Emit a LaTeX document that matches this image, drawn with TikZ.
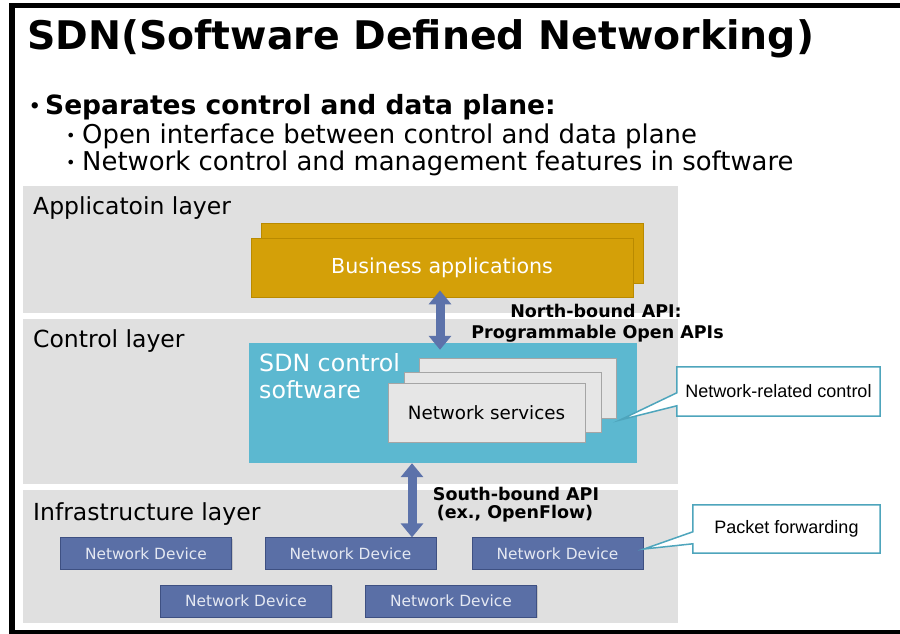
\documentclass[tikz,border=0pt]{standalone}
\usepackage{fontspec}
\setmainfont{DejaVu Sans}
\newfontfamily\arialf{Liberation Sans}
\usetikzlibrary{arrows.meta,calc,shadows}
\definecolor{layergray}{RGB}{224,224,224}
\definecolor{gold}{RGB}{212,160,8}
\definecolor{golddark}{RGB}{185,138,0}
\definecolor{sdncyan}{RGB}{92,184,208}
\definecolor{devblue}{RGB}{90,111,166}
\definecolor{devborder}{RGB}{62,80,130}
\definecolor{arrowblue}{RGB}{92,114,170}
\definecolor{svcgray}{RGB}{230,230,230}
\definecolor{svcborder}{RGB}{165,165,165}
\definecolor{callteal}{RGB}{78,165,188}
\definecolor{devtext}{RGB}{228,232,242}
\begin{document}
\begin{tikzpicture}[x=1pt,y=-1pt,
  layerbox/.style={fill=layergray, draw=none, inner sep=0pt, minimum width=655pt},
  layerlabel/.style={anchor=base west, inner sep=0pt, font=\fontsize{23.5}{27}\selectfont},
  goldbox/.style={fill=gold, draw=golddark, line width=0.8pt, inner sep=0pt, minimum width=382pt, minimum height=59pt},
  svcbox/.style={fill=svcgray, draw=svcborder, line width=1pt, inner sep=0pt, minimum width=197pt, minimum height=59pt},
  devbox/.style={fill=devblue, draw=devborder, line width=0.8pt, inner sep=0pt, minimum width=171pt, minimum height=31.5pt, text=devtext, font=\fontsize{15.4}{18}\selectfont,
    drop shadow={shadow xshift=1.2pt, shadow yshift=-1.2pt, opacity=0.3}},
  bigarrow/.style={draw=arrowblue, line width=9pt, {Triangle[width=22pt,length=14pt]}-{Triangle[width=22pt,length=14pt]}},
  apilabel/.style={anchor=base, inner sep=0pt, font=\bfseries\fontsize{17.5}{21}\selectfont},
  callbox/.style={fill=white, draw=none, inner sep=0pt, font=\arialf\fontsize{18}{21}\selectfont},
  callline/.style={draw=callteal, fill=white, line width=1.5pt, line join=miter},
  txt/.style={anchor=base west, inner sep=0pt}
]
\useasboundingbox (0,0) rectangle (900,634);
\fill[white] (0,0) rectangle (900,634);
% frame
\fill[black] (9,3) rectangle (900,8);
\fill[black] (9,3) rectangle (15,634);
\fill[black] (9,630) rectangle (900,634);

% title and bullets
\node[txt, font=\bfseries\fontsize{39.4}{42}\selectfont] (title) at (27,50) {SDN(Software Defined Networking)};
\node[txt, font=\bfseries\fontsize{18}{20}\selectfont] (b1) at (29,112) {•};
\node[txt, font=\bfseries\fontsize{26.5}{30}\selectfont] (h1) at (45,114) {Separates control and data plane:};
\node[txt, font=\fontsize{16}{20}\selectfont] (b2) at (66,141) {•};
\node[txt, font=\fontsize{25.9}{30}\selectfont] (s1) at (82,143) {Open interface between control and data plane};
\node[txt, font=\fontsize{16}{20}\selectfont] (b3) at (66,168) {•};
\node[txt, font=\fontsize{25.9}{30}\selectfont] (s2) at (82,170) {Network control and management features in software};

% layers
\node[layerbox, minimum height=127pt] (app) at (350.5,249.5) {};
\node[layerbox, minimum height=165pt] (ctrl) at (350.5,401.5) {};
\node[layerbox, minimum height=133pt] (infra) at (350.5,556.5) {};
\node[layerlabel] (applbl) at (33,214) {Applicatoin layer};
\node[layerlabel] (ctrllbl) at (33,347) {Control layer};
\node[layerlabel] (infralbl) at (33,520) {Infrastructure layer};

% business applications
\node[goldbox, minimum height=60pt] (bizback) at (452,253) {};
\node[goldbox, text=white, font=\fontsize{20.6}{24}\selectfont] (biz) at (442,267.5) {Business applications};

% SDN control software
\node[fill=sdncyan, draw=none, inner sep=0pt, minimum width=388pt, minimum height=120pt] (sdn) at (443,403) {};
\node[txt, text=white, font=\fontsize{23.7}{27}\selectfont] (sdnl1) at (259,371) {SDN control};
\node[txt, text=white, font=\fontsize{23.7}{27}\selectfont] (sdnl2) at (259,398) {software};
\node[svcbox, minimum height=60pt] (svc3) at (518,388) {};
\node[svcbox, minimum height=60pt] (svc2) at (502.5,402) {};
\node[svcbox, font=\fontsize{18.3}{22}\selectfont] (svc) at (486.5,412.5) {Network services};

% devices
\node[devbox] (d1) at (146,553.5) {Network Device};
\node[devbox] (d2) at (350.5,553.5) {Network Device};
\node[devbox] (d3) at (557.5,553.5) {Network Device};
\node[devbox, minimum height=32pt] (d4) at (246,601) {Network Device};
\node[devbox, minimum height=32pt] (d5) at (451,601) {Network Device};

% arrows
\coordinate (nax) at (440,0);
\coordinate (sax) at (412,0);
\draw[bigarrow, shorten <=-7pt, shorten >=-7pt] (biz.south -| nax) -- (sdn.north -| nax);
\draw[bigarrow] (sdn.south -| sax) -- (d2.north -| sax);

\node[apilabel] (nb1) at (596,317) {North-bound API:};
\node[apilabel] (nb2) at (597.5,338) {Programmable Open APIs};
\node[apilabel] (sb1) at (516,500) {South-bound API};
\node[apilabel] (sb2) at (515,518) {(ex., OpenFlow)};

% callouts
\coordinate (tip1) at (620,420);
\coordinate (tip2) at (644,549);
\node[callbox, minimum width=203pt, minimum height=49pt] (nrc) at (778.5,391.5) {};
\draw[callline] (nrc.north west) -- (nrc.north east) -- (nrc.south east) -- (nrc.south west)
  -- ($(nrc.north west)+(0,39)$) -- (tip1) -- ($(nrc.north west)+(0,26)$) -- cycle;
\node[callbox] (nrct) at (nrc.center) {Network-related control};
\node[callbox, minimum width=187pt, minimum height=48pt] (pfw) at (786.5,529) {};
\draw[callline] (pfw.north west) -- (pfw.north east) -- (pfw.south east) -- (pfw.south west)
  -- ($(pfw.north west)+(0,39)$) -- (tip2) -- ($(pfw.north west)+(0,27)$) -- cycle;
\node[callbox] (pfwt) at (pfw.center) {Packet forwarding};
\end{tikzpicture}
\end{document}
